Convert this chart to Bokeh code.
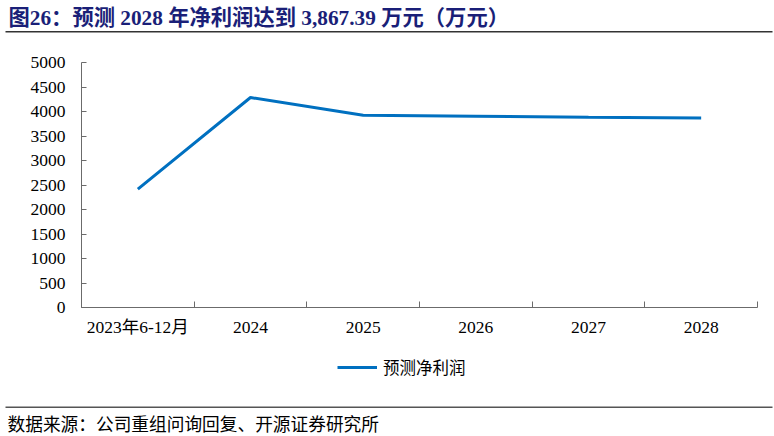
from bokeh.plotting import figure
from bokeh.layouts import column, row
from bokeh.models import (FixedTicker, Legend, LegendItem, Label, BoxAnnotation, Range1d)
from bokeh.embed import file_html
from bokeh.resources import INLINE

# ---- data ----
categories = ["2023年6-12月", "2024", "2025", "2026", "2027", "2028"]
net_profit = [2415, 4285, 3925, 3905, 3885, 3867.39]
y_ticks = [0, 500, 1000, 1500, 2000, 2500, 3000, 3500, 4000, 4500, 5000]

title_text = "图26：预测 2028 年净利润达到 3,867.39 万元（万元）"
series_name = "预测净利润"
source_text = "数据来源：公司重组问询回复、开源证券研究所"

SERIF = "Liberation Serif, 'Noto Sans CJK SC'"
CJK = "'Noto Sans CJK SC'"
AXIS_COLOR = "#6b6b6b"
LINE_COLOR = "#0070C0"

n = len(categories)
centers = [i + 0.5 for i in range(n)]
bounds = [float(i) for i in range(n + 1)]

W = 774
H1, H2, H3 = 44, 303, 87


def blank(h):
    f = figure(width=W, height=h, output_backend="svg", toolbar_location=None,
               x_range=Range1d(0, W), y_range=Range1d(0, h),
               x_axis_type=None, y_axis_type=None, title=None,
               min_border=0, min_border_left=0, min_border_right=0,
               min_border_top=0, min_border_bottom=0)
    f.outline_line_color = None
    f.grid.visible = False
    return f


# ---- header: title and rule ----
head = blank(H1)
head.add_layout(Label(x=8, y=H1 - 17, text=title_text, text_font=SERIF,
                      text_font_size="21.3px", text_font_style="bold",
                      text_color="#1a1f78", text_baseline="middle", text_align="left"))
head.add_layout(BoxAnnotation(left=5, right=772, top=H1 - 30.5, bottom=H1 - 32,
                              fill_color="#333333", fill_alpha=1, line_alpha=0))

# ---- main chart ----
LEFT, RIGHT, TOP, BOTTOM = 81, 17, 18, 40
p = figure(width=W, height=H2, output_backend="svg", toolbar_location=None,
           x_range=Range1d(0, n), y_range=Range1d(0, 5000), title=None,
           min_border_left=LEFT, min_border_right=RIGHT,
           min_border_top=TOP, min_border_bottom=BOTTOM)
p.outline_line_color = None
p.grid.visible = False

r = p.line(centers, net_profit, line_color=LINE_COLOR, line_width=3)

xa = p.xaxis[0]
xa.ticker = FixedTicker(ticks=centers, minor_ticks=bounds)
xa.major_label_overrides = {c: lab for c, lab in zip(centers, categories)}
xa.major_tick_in = 0
xa.major_tick_out = 0
xa.minor_tick_in = 6
xa.minor_tick_out = 0
xa.minor_tick_line_color = AXIS_COLOR
xa.axis_line_color = AXIS_COLOR
xa.major_label_text_font = SERIF
xa.major_label_text_font_size = "17.5px"
xa.major_label_text_color = "#000000"
xa.major_label_standoff = 9

ya = p.yaxis[0]
ya.ticker = FixedTicker(ticks=y_ticks)
ya.major_tick_in = 5
ya.major_tick_out = 0
ya.minor_tick_line_color = None
ya.major_tick_line_color = AXIS_COLOR
ya.axis_line_color = AXIS_COLOR
ya.major_label_text_font = SERIF
ya.major_label_text_font_size = "17.5px"
ya.major_label_text_color = "#000000"
ya.major_label_standoff = 16

# ---- footer: legend, rule and source ----
foot = blank(H3)
# legend key: the same series drawn in the footer's panel (its values fall outside
# this panel's range, so only the legend key shows, placed below the axis)
key = foot.line(x=centers, y=net_profit, line_color=LINE_COLOR, line_width=3)
legend = Legend(items=[LegendItem(label=series_name, renderers=[key])],
                location=(337, 55), orientation="horizontal",
                glyph_width=40, glyph_height=20, label_height=20,
                label_standoff=6, padding=0, margin=0, spacing=0,
                border_line_color=None, background_fill_alpha=0,
                label_text_font=CJK, label_text_font_size="16.5px",
                label_text_color="#000000")
foot.add_layout(legend)
foot.add_layout(BoxAnnotation(left=5, right=772, top=H3 - 59, bottom=H3 - 60.5,
                              fill_color="#555555", fill_alpha=1, line_alpha=0))
foot.add_layout(Label(x=7, y=H3 - 75, text=source_text, text_font=CJK,
                      text_font_size="17.7px", text_color="#000000",
                      text_baseline="middle", text_align="left"))

layout = column(row(head), p, row(foot), spacing=0)
open("out.html", "w").write(file_html(layout, INLINE))
